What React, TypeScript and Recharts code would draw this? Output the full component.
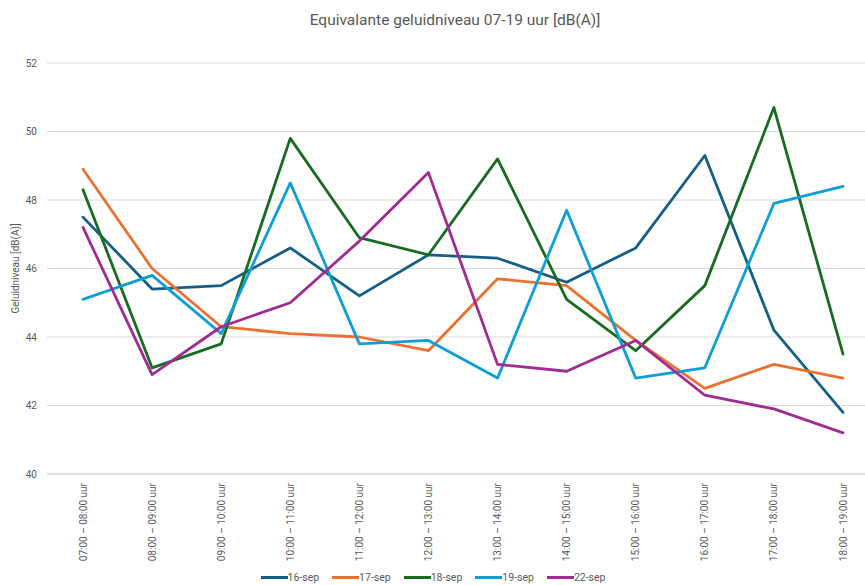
import React from 'react';
import { LineChart, Line, XAxis, YAxis, CartesianGrid, Legend } from 'recharts';

const categories = [
  '07:00 – 08:00 uur', '08:00 – 09:00 uur', '09:00 – 10:00 uur', '10:00 – 11:00 uur',
  '11:00 – 12:00 uur', '12:00 – 13:00 uur', '13:00 – 14:00 uur', '14:00 – 15:00 uur',
  '15:00 – 16:00 uur', '16:00 – 17:00 uur', '17:00 – 18:00 uur', '18:00 – 19:00 uur',
];
const sep16 = [47.5, 45.4, 45.5, 46.6, 45.2, 46.4, 46.3, 45.6, 46.6, 49.3, 44.2, 41.8];
const sep17 = [48.9, 46.0, 44.3, 44.1, 44.0, 43.6, 45.7, 45.5, 43.9, 42.5, 43.2, 42.8];
const sep18 = [48.3, 43.1, 43.8, 49.8, 46.9, 46.4, 49.2, 45.1, 43.6, 45.5, 50.7, 43.5];
const sep19 = [45.1, 45.8, 44.1, 48.5, 43.8, 43.9, 42.8, 47.7, 42.8, 43.1, 47.9, 48.4];
const sep22 = [47.2, 42.9, 44.3, 45.0, 46.8, 48.8, 43.2, 43.0, 43.9, 42.3, 41.9, 41.2];
const yTicks = [40, 42, 44, 46, 48, 50, 52];

const seriesDefs = [
  { key: '16-sep', values: sep16, color: '#156082' },
  { key: '17-sep', values: sep17, color: '#E97132' },
  { key: '18-sep', values: sep18, color: '#196B24' },
  { key: '19-sep', values: sep19, color: '#0F9ED5' },
  { key: '22-sep', values: sep22, color: '#A02B93' },
];

const data = categories.map((c, i) => {
  const row: any = { cat: c };
  seriesDefs.forEach((s) => { row[s.key] = s.values[i]; });
  return row;
});

const FONT = 'Roboto, "Liberation Sans", sans-serif';
const GRAY = '#595959';

const XTick = (props: any) => {
  const { x, y, payload } = props;
  return (
    <text
      x={x}
      y={y}
      transform={`rotate(-90, ${x}, ${y})`}
      textAnchor="end"
      dy="0.35em"
      fontSize={10}
      fontFamily={FONT}
      fill={GRAY}
    >
      {payload.value}
    </text>
  );
};

const LegendContent = (props: any) => {
  const { payload } = props;
  return (
    <div style={{ display: 'flex', justifyContent: 'center', height: 16, alignItems: 'center', paddingLeft: 14 }}>
      {payload.map((p: any) => (
        <div key={p.value} style={{ display: 'flex', alignItems: 'center', marginRight: 13 }}>
          <div style={{ width: 27, height: 3, background: p.color }} />
          <span style={{ fontSize: 10.5, fontFamily: FONT, color: GRAY }}>{p.value}</span>
        </div>
      ))}
    </div>
  );
};

export default function App() {
  return (
    <div style={{ position: 'absolute', left: 0, top: 0, width: 865, height: 585, background: '#fff' }}>
      <div
        style={{
          position: 'absolute', left: 0, top: 10, width: 910, textAlign: 'center',
          fontSize: 15.5, fontFamily: FONT, color: GRAY, lineHeight: '20px',
        }}
      >
        Equivalante geluidniveau 07-19 uur [dB(A)]
      </div>
      <LineChart width={865} height={585} data={data} margin={{ top: 63, right: 0, bottom: 0, left: 0 }}>
        <CartesianGrid vertical={false} stroke="#d9d9d9" />
        <XAxis
          dataKey="cat"
          padding={{ left: 36, right: 22 }}
          height={95}
          interval={0}
          tickLine={false}
          tickSize={0}
          tickMargin={9}
          axisLine={{ stroke: '#d9d9d9' }}
          tick={<XTick />}
        />
        <YAxis
          domain={[40, 52]}
          ticks={yTicks}
          width={47}
          axisLine={false}
          tickLine={false}
          tickSize={0}
          tickMargin={10}
          tick={{ fontSize: 10, fontFamily: FONT, fill: GRAY }}
          label={{
            value: 'Geluidniveau [dB(A)]', angle: -90, position: 'center', dx: -8.5,
            style: { fontSize: 10, fontFamily: FONT, fill: GRAY },
          }}
        />
        <Legend verticalAlign="bottom" content={<LegendContent />} />
        {seriesDefs.map((s) => (
          <Line
            key={s.key}
            type="linear"
            dataKey={s.key}
            stroke={s.color}
            strokeWidth={2.8}
            dot={false}
            activeDot={false}
            strokeLinejoin="round"
            strokeLinecap="round"
            isAnimationActive={false}
          />
        ))}
      </LineChart>
    </div>
  );
}
